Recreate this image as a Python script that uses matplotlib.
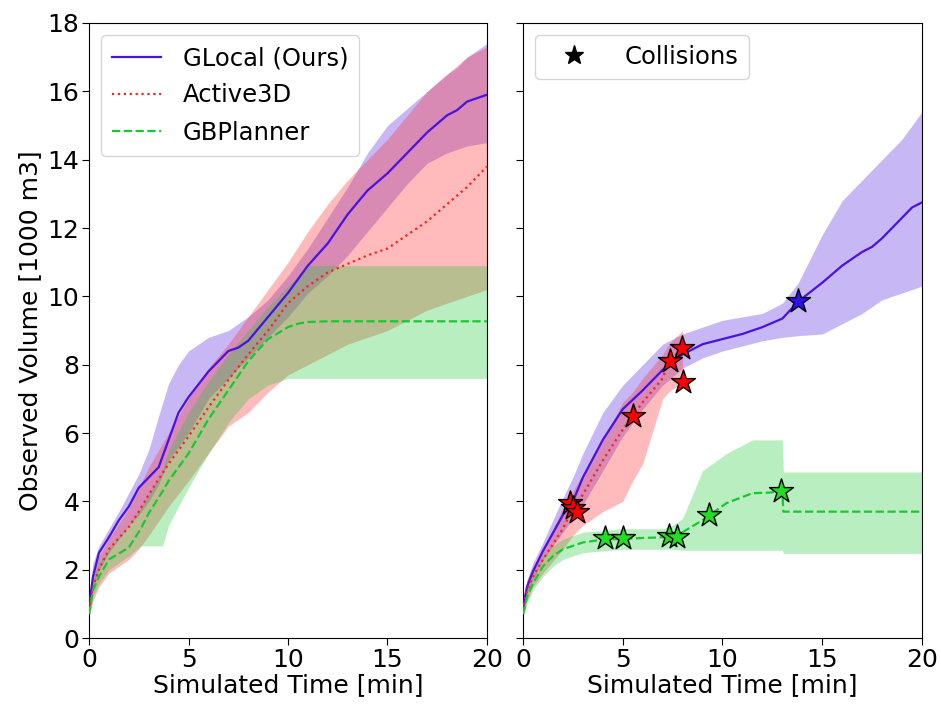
import numpy as np
import matplotlib
matplotlib.use("Agg")
import matplotlib.pyplot as plt
from matplotlib.lines import Line2D

# ---------------- left panel: mean +/- spread over runs ----------------
glocal_t = [0, 0.2, 0.5, 1, 1.5, 2, 2.5, 3, 3.5, 4, 4.5, 5, 6, 7, 7.5, 8, 9, 10, 11, 12, 13, 14, 15, 16, 17, 18, 18.5, 19, 20]
glocal_mean = [0.9, 1.8, 2.5, 2.95, 3.45, 3.85, 4.4, 4.7, 5.0, 5.8, 6.6, 7.05, 7.8, 8.4, 8.5, 8.7, 9.4, 10.1, 10.9, 11.55, 12.4, 13.1, 13.6, 14.2, 14.8, 15.3, 15.45, 15.7, 15.9]
glocal_lo = [0.8, 1.5, 2.0, 2.5, 2.9, 3.3, 3.6, 4.0, 4.5, 5.2, 5.6, 6.0, 7.0, 7.6, 7.9, 8.2, 8.8, 9.4, 10.1, 10.6, 11.2, 11.9, 12.6, 13.3, 13.9, 14.2, 14.3, 14.4, 14.5]
glocal_hi = [1.2, 2.2, 2.7, 3.2, 3.7, 4.25, 4.8, 5.5, 6.5, 7.45, 8.0, 8.4, 8.8, 9.0, 9.2, 9.4, 9.9, 10.6, 11.4, 12.3, 13.2, 14.2, 15.0, 15.5, 16.0, 16.5, 16.7, 17.0, 17.4]

active_t = [0, 0.2, 0.5, 1, 2, 2.5, 3, 4, 5, 6, 7, 8, 9, 10, 11, 12, 13, 14, 15, 16, 17, 18, 19, 20]
active_mean = [0.8, 1.5, 2.0, 2.6, 3.25, 3.7, 4.2, 5.1, 5.9, 6.75, 7.55, 8.3, 9.0, 9.8, 10.3, 10.7, 10.95, 11.2, 11.4, 11.8, 12.2, 12.7, 13.2, 13.8]
active_lo = [0.6, 1.1, 1.5, 1.9, 2.3, 2.6, 3.0, 3.85, 4.6, 5.4, 6.2, 6.6, 7.2, 7.7, 8.0, 8.3, 8.6, 8.8, 9.0, 9.3, 9.6, 9.8, 10.0, 10.2]
active_hi = [1.0, 2.0, 2.4, 2.9, 3.8, 4.4, 5.0, 6.0, 7.0, 7.9, 8.6, 9.4, 10.2, 11.0, 11.9, 12.7, 13.4, 14.0, 14.6, 15.3, 16.0, 16.5, 17.0, 17.3]

gbp_t = [0, 0.2, 0.5, 1, 2, 2.6, 3, 3.7, 4, 5, 6, 7, 8, 9, 10, 10.5, 11, 12, 14, 16, 18, 20]
gbp_mean = [0.7, 1.4, 1.8, 2.3, 2.65, 3.2, 3.65, 4.3, 4.6, 5.4, 6.4, 7.25, 8.1, 8.75, 9.1, 9.2, 9.25, 9.27, 9.27, 9.27, 9.27, 9.27]
gbp_lo = [0.6, 1.2, 1.6, 2.0, 2.4, 2.7, 2.7, 2.7, 3.3, 4.4, 5.4, 6.3, 7.0, 7.4, 7.6, 7.6, 7.6, 7.6, 7.6, 7.6, 7.6, 7.6]
gbp_hi = [1.0, 1.8, 2.2, 2.6, 3.3, 3.8, 4.2, 4.9, 5.5, 6.6, 7.5, 8.3, 9.0, 9.7, 10.3, 10.6, 10.9, 10.9, 10.9, 10.9, 10.9, 10.9]

# ---------------- right panel: single environment with crashes ----------------
r_glocal_t = [0, 0.2, 0.5, 1, 2, 2.5, 3, 4, 5, 6, 7, 8, 9, 10, 11, 12, 13, 13.8, 15, 16, 17, 17.5, 18, 19, 19.5, 20]
r_glocal_mean = [0.9, 1.5, 1.95, 2.55, 3.6, 4.0, 4.7, 5.8, 6.7, 7.25, 7.85, 8.3, 8.6, 8.75, 8.9, 9.1, 9.35, 9.85, 10.4, 10.9, 11.3, 11.45, 11.7, 12.3, 12.6, 12.75]
r_glocal_lo = [0.8, 1.3, 1.7, 2.3, 3.1, 3.5, 3.9, 4.9, 5.9, 6.7, 7.4, 7.9, 8.2, 8.4, 8.55, 8.7, 8.8, 8.85, 8.9, 9.2, 9.5, 9.7, 9.9, 10.1, 10.2, 10.3]
r_glocal_hi = [1.0, 1.7, 2.2, 2.8, 4.1, 4.7, 5.4, 6.6, 7.4, 8.0, 8.6, 8.9, 9.1, 9.3, 9.4, 9.5, 9.8, 10.4, 11.8, 12.8, 13.4, 13.7, 14.0, 14.6, 15.0, 15.4]

r_active_t = [0, 0.2, 0.5, 1, 2, 2.5, 3, 4, 5, 5.5, 6, 7, 7.3, 8.0]
r_active_mean = [0.8, 1.4, 1.8, 2.3, 3.2, 3.8, 4.2, 5.2, 6.1, 6.5, 6.9, 7.6, 8.1, 8.5]
r_active_lo = [0.6, 1.1, 1.5, 1.9, 2.6, 3.0, 3.3, 3.7, 4.0, 4.6, 5.1, 7.0, 7.2, 7.5]
r_active_hi = [1.0, 1.7, 2.1, 2.6, 3.8, 4.3, 4.8, 5.8, 6.9, 7.2, 7.6, 8.3, 8.6, 9.0]

r_gbp_t = [0, 0.2, 0.5, 1, 1.5, 2, 3, 4, 5, 6, 7, 7.5, 8, 9, 10.2, 11.5, 12.4, 13.0, 13.05, 14, 16, 18, 20]
r_gbp_mean = [0.7, 1.2, 1.6, 2.1, 2.4, 2.6, 2.8, 2.88, 2.9, 2.93, 2.95, 2.97, 3.1, 3.45, 3.95, 4.24, 4.26, 4.3, 3.7, 3.7, 3.7, 3.7, 3.7]
r_gbp_lo = [0.6, 1.0, 1.4, 1.8, 2.1, 2.3, 2.5, 2.55, 2.6, 2.6, 2.6, 2.6, 2.57, 2.57, 2.57, 2.57, 2.57, 2.57, 2.48, 2.48, 2.48, 2.48, 2.48]
r_gbp_hi = [0.9, 1.4, 1.8, 2.4, 2.7, 2.9, 3.1, 3.15, 3.2, 3.2, 3.2, 3.3, 3.5, 4.9, 5.4, 5.8, 5.8, 5.8, 4.86, 4.86, 4.86, 4.86, 4.86]

# collision events (time, volume)
crash_glocal_t = [13.8]
crash_glocal_v = [9.85]
crash_active_t = [2.35, 2.5, 2.7, 5.5, 7.35, 7.95, 8.0]
crash_active_v = [3.95, 3.8, 3.7, 6.5, 8.1, 8.5, 7.5]
crash_gbp_t = [4.1, 5.0, 7.3, 7.7, 9.3, 12.95]
crash_gbp_v = [2.93, 2.93, 3.0, 2.96, 3.6, 4.3]

labels = ["GLocal (Ours)", "Active3D", "GBPlanner"]
xticks = [0, 5, 10, 15, 20]
yticks = [0, 2, 4, 6, 8, 10, 12, 14, 16, 18]

c_glocal = "#4a12e0"
c_active = "#ff2020"
c_gbp = "#18c830"
band_alpha = 0.3

plt.rcParams["font.family"] = ["DejaVu Sans"]
plt.rcParams["font.size"] = 18

fig = plt.figure(figsize=(9.41, 7.09), dpi=100)
ax1 = fig.add_axes([0.0946, 0.100, 0.4229, 0.8676])
ax2 = fig.add_axes([0.5558, 0.100, 0.4240, 0.8676], sharey=ax1)


def draw_series(ax, t, mean, lo, hi, color, ls, lw, label=None):
    ax.fill_between(t, lo, hi, color=color, alpha=band_alpha, linewidth=0)
    ax.plot(t, mean, color=color, linestyle=ls, linewidth=lw, label=label, zorder=3)


draw_series(ax1, glocal_t, glocal_mean, glocal_lo, glocal_hi, c_glocal, "-", 1.6, labels[0])
draw_series(ax1, active_t, active_mean, active_lo, active_hi, c_active, ":", 1.6, labels[1])
draw_series(ax1, gbp_t, gbp_mean, gbp_lo, gbp_hi, c_gbp, "--", 1.6, labels[2])

draw_series(ax2, r_glocal_t, r_glocal_mean, r_glocal_lo, r_glocal_hi, c_glocal, "-", 1.6)
draw_series(ax2, r_active_t, r_active_mean, r_active_lo, r_active_hi, c_active, ":", 1.6)
draw_series(ax2, r_gbp_t, r_gbp_mean, r_gbp_lo, r_gbp_hi, c_gbp, "--", 1.6)

star_kw = dict(marker="*", s=330, edgecolors="black", linewidths=1.0, zorder=5)
ax2.scatter(crash_active_t, crash_active_v, color="red", **star_kw)
ax2.scatter(crash_gbp_t, crash_gbp_v, color="#22dd22", **star_kw)
ax2.scatter(crash_glocal_t, crash_glocal_v, color="#3010e8", **star_kw)

for ax in (ax1, ax2):
    ax.set_xlim(0, 20)
    ax.set_ylim(0, 18)
    ax.set_xticks(xticks)
    ax.set_yticks(yticks)
    ax.set_xlabel("Simulated Time [min]", labelpad=1)
    ax.tick_params(labelsize=18, length=5, pad=2)

ax1.set_ylabel("Observed Volume [1000 m3]", labelpad=4)
ax2.tick_params(labelleft=False)

ax1.legend(loc="upper left", fontsize=17.5, handlelength=2.0, borderpad=0.45,
           labelspacing=0.55, handletextpad=0.9)
ax2.legend(handles=[Line2D([], [], marker="*", color="black", linestyle="none", markersize=14)],
           labels=["Collisions"], loc="upper left", fontsize=17.5, handlelength=2.4,
           handletextpad=0.9)

fig.savefig("out.png", dpi=100)
